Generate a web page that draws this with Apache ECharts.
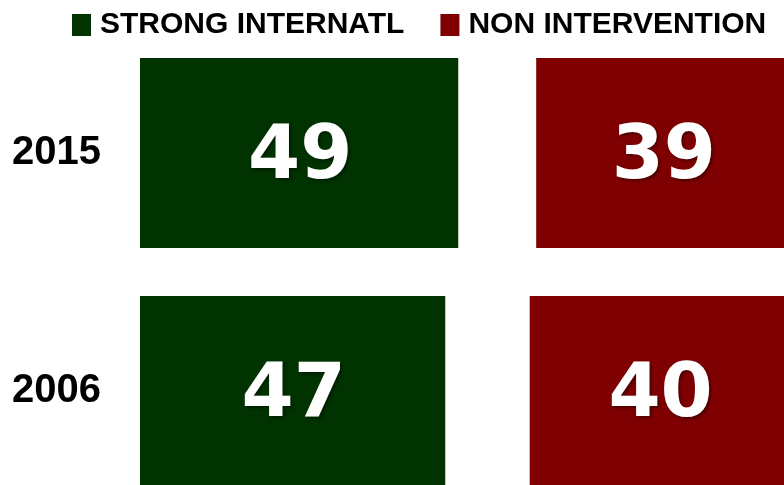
<!DOCTYPE html>
<html>
<head>
<meta charset="utf-8">
<script src="https://cdn.jsdelivr.net/npm/echarts@6/dist/echarts.min.js"></script>
<style>html,body{margin:0;padding:0;background:#fff;}#c{width:784px;height:485px;}</style>
</head>
<body>
<div id="c"></div>
<script>
const years = ['2015', '2006'];
const strongIntl = [49, 47];
const other = [12, 13];
const nonIntervention = [39, 40];
const seriesNames = ['STRONG INTERNATL', 'NON INTERVENTION'];

const chart = echarts.init(document.getElementById('c'));
const valueLabel = {
  show: true,
  position: 'inside',
  color: '#fff',
  fontFamily: 'DejaVu Sans',
  fontWeight: 'bold',
  fontSize: 75,
  textShadowColor: 'rgba(0,0,0,0.4)',
  textShadowBlur: 3,
  textShadowOffsetX: 2,
  textShadowOffsetY: 2,
  offset: [1, 6]
};
chart.setOption({
  animation: false,
  backgroundColor: '#fff',
  legend: {
    data: seriesNames,
    left: 72,
    top: 10,
    padding: 0,
    width: 760,
    icon: 'rect',
    itemWidth: 19,
    itemHeight: 22,
    itemGap: 36,
    textStyle: {
      fontFamily: '"Liberation Sans", Arial',
      fontWeight: 'bold',
      fontSize: 30,
      color: '#000',
      padding: [0, 0, 0, 4]
    }
  },
  grid: { left: 140, right: -5.5, top: 34, bottom: -25, containLabel: false, outerBoundsMode: 'none' },
  xAxis: { type: 'value', min: 0, max: 100, show: false },
  yAxis: {
    type: 'category',
    data: years,
    inverse: true,
    axisLine: { show: false },
    axisTick: { show: false },
    axisLabel: {
      margin: 39,
      color: '#000',
      fontFamily: '"Liberation Sans", Arial',
      fontWeight: 'bold',
      fontSize: 40
    }
  },
  series: [
    {
      name: seriesNames[0], type: 'bar', stack: 't', data: strongIntl, barWidth: 190,
      itemStyle: { color: '#003300' }, label: valueLabel
    },
    {
      name: 'other', type: 'bar', stack: 't', data: other, barWidth: 190,
      itemStyle: { color: 'rgba(0,0,0,0)' }, label: { show: false }, silent: true
    },
    {
      name: seriesNames[1], type: 'bar', stack: 't', data: nonIntervention, barWidth: 190,
      itemStyle: { color: '#7f0000' }, label: valueLabel
    }
  ]
});
</script>
</body>
</html>
